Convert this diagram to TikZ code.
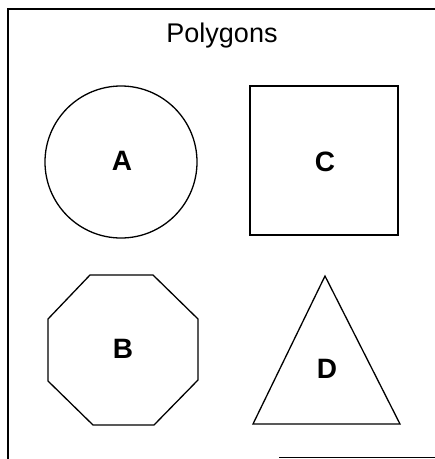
\documentclass[tikz,border=0pt]{standalone}
\usepackage{fontspec}
\setmainfont{Liberation Sans}
\usetikzlibrary{shapes.geometric}
\begin{document}
\begin{tikzpicture}[x=1pt,y=-1pt,
  outl/.style={draw=black,line width=1.3pt},
  lbl/.style={font=\bfseries\fontsize{28}{28}\selectfont,anchor=base,inner sep=0pt},
  framestyle/.style={draw=black,line width=1.6pt}]
\useasboundingbox (0,0) rectangle (435,459);
% frame
\coordinate (ftl) at (8,9);
\coordinate (ftr) at (435,9);
\coordinate (fbl) at (8,459);
\draw[framestyle] (fbl) -- (ftl) -- (ftr);
\coordinate (bb1) at (279,457);
\coordinate (bb2) at (435,457);
\draw[black,line width=0.8pt] (bb1) -- (bb2);
% title
\node[anchor=base,inner sep=0pt] (title) at (222,42) {\fontsize{27}{27}\selectfont Polygons};
% circle A
\node[outl,circle,minimum size=152pt,inner sep=0pt] (circA) at (121,162) {};
\node[lbl] (A) at (122,170) {A};
% square C
\node[outl,rectangle,minimum width=148pt,minimum height=149pt,inner sep=0pt] (sqC) at (324,160.5) {};
\node[lbl] (C) at (325,171) {C};
% octagon B
\draw[outl] (90,275) -- (153,275) -- (198,319) -- (198,380) -- (154,425) -- (93,425) -- (48,381) -- (48,319) -- cycle;
\node[lbl] (B) at (123,358) {B};
% triangle D
\draw[outl] (325,276) -- (400,424) -- (253,424) -- cycle;
\node[lbl] (D) at (327,378) {D};
\end{tikzpicture}
\end{document}
